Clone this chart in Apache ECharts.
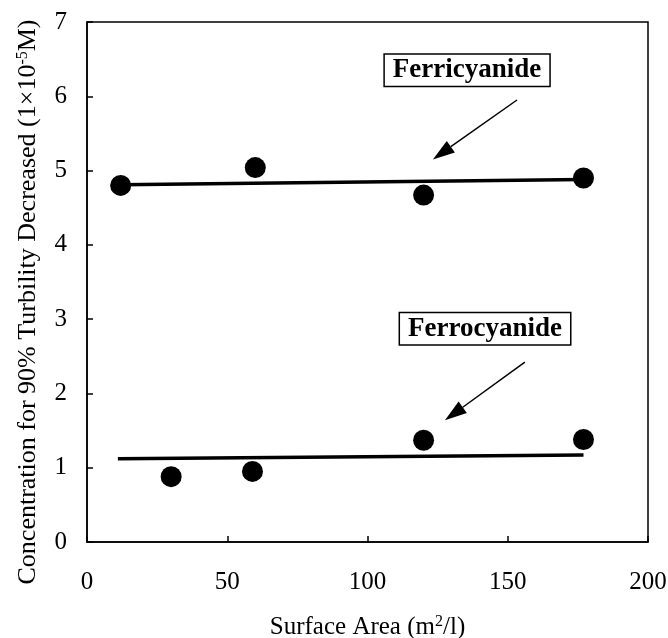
<!DOCTYPE html>
<html>
<head>
<meta charset="utf-8">
<script src="https://cdn.jsdelivr.net/npm/echarts@6/dist/echarts.min.js"></script>
<style>html,body{margin:0;padding:0;background:#fff}#c{width:668px;height:638px}</style>
</head>
<body>
<div id="c"></div>
<script>
// Data
var ferriX = [12, 60, 120, 177];
var ferriY = [4.80, 5.04, 4.67, 4.90];
var ferroX = [30, 59, 120, 177];
var ferroY = [0.88, 0.95, 1.37, 1.38];
var ferriFitX = [12, 177];
var ferriFitY = [4.81, 4.88];
var ferroFitX = [11, 177];
var ferroFitY = [1.12, 1.17];
var xTicks = [0, 50, 100, 150, 200];
var yTicks = [0, 1, 2, 3, 4, 5, 6, 7];
// annotations (data coordinates)
var annoLabels = ['Ferricyanide', 'Ferrocyanide'];
var annoBox = [[135.5, 6.35], [141.9, 2.87]];
var annoArrowFrom = [[153.3, 5.95], [156.1, 2.42]];
var annoArrowTo = [[123.3, 5.15], [127.6, 1.64]];

function zip(a, b) { return a.map(function (v, i) { return [v, b[i]]; }); }

var FONT = 'Liberation Serif';
var chart = echarts.init(document.getElementById('c'));
var supStyle = { fontFamily: FONT, fontSize: 16, verticalAlign: 'top', padding: [0, 0, 10, 0], color: '#000' };
var option = {
  animation: false,
  backgroundColor: '#fff',
  grid: { left: 87, right: 20, top: 22, bottom: 96, outerBoundsMode: 'none', containLabel: false, show: true, borderColor: '#000', borderWidth: 1.5, backgroundColor: 'transparent' },
  xAxis: {
    type: 'value', min: 0, max: 200, interval: 50,
    name: 'Surface Area (m{sup|2}/l)', nameLocation: 'middle', nameGap: 72,
    nameTextStyle: { fontFamily: FONT, fontSize: 25, color: '#000', rich: { sup: supStyle } },
    axisLine: { show: true, lineStyle: { color: '#000', width: 1.5 } },
    axisTick: { show: true, inside: true, length: 6, lineStyle: { color: '#000', width: 1.5 } },
    axisLabel: { fontFamily: FONT, fontSize: 25, color: '#000', margin: 28,
      formatter: function (v) { return xTicks.indexOf(v) >= 0 ? String(v) : ''; } },
    splitLine: { show: false }
  },
  yAxis: {
    type: 'value', min: 0, max: 7, interval: 1,
    name: 'Concentration for 90% Turbility Decreased (1×10{sup|-5}M)', nameLocation: 'middle', nameGap: 46, nameRotate: 90,
    nameTextStyle: { fontFamily: FONT, fontSize: 26, color: '#000', padding: [0, 40, 0, 0], rich: { sup: supStyle } },
    axisLine: { show: true, lineStyle: { color: '#000', width: 1.5 } },
    axisTick: { show: true, inside: true, length: 6, lineStyle: { color: '#000', width: 1.5 } },
    axisLabel: { fontFamily: FONT, fontSize: 25, color: '#000', margin: 20,
      formatter: function (v) { return yTicks.indexOf(v) >= 0 ? String(v) : ''; } },
    splitLine: { show: false }
  },
  series: [
    { type: 'line', data: zip(ferriFitX, ferriFitY), symbol: 'none', lineStyle: { color: '#000', width: 3.5 }, z: 2 },
    { type: 'line', data: zip(ferroFitX, ferroFitY), symbol: 'none', lineStyle: { color: '#000', width: 3.5 }, z: 2 },
    { type: 'scatter', name: 'Ferricyanide', data: zip(ferriX, ferriY), symbol: 'circle', symbolSize: 21, itemStyle: { color: '#000', opacity: 1 }, z: 3 },
    { type: 'scatter', name: 'Ferrocyanide', data: zip(ferroX, ferroY), symbol: 'circle', symbolSize: 21, itemStyle: { color: '#000', opacity: 1 }, z: 3 }
  ]
};
chart.setOption(option);

var graphics = [];
for (var i = 0; i < annoLabels.length; i++) {
  var c = chart.convertToPixel({ gridIndex: 0 }, annoBox[i]);
  graphics.push({
    type: 'text', x: c[0], y: c[1], z: 10,
    style: { text: annoLabels[i], font: 'bold 27px "Liberation Serif"', fill: '#000',
      align: 'center', verticalAlign: 'middle', backgroundColor: '#fff',
      borderColor: '#000', borderWidth: 1.5, padding: [3, 8, 1, 8] }
  });
  var p0 = chart.convertToPixel({ gridIndex: 0 }, annoArrowFrom[i]);
  var p1 = chart.convertToPixel({ gridIndex: 0 }, annoArrowTo[i]);
  var dx = p1[0] - p0[0], dy = p1[1] - p0[1];
  var L = Math.sqrt(dx * dx + dy * dy), ux = dx / L, uy = dy / L;
  var headLen = 22, headW = 7;
  var bx = p1[0] - ux * headLen, by = p1[1] - uy * headLen;
  graphics.push({ type: 'line', z: 10, shape: { x1: p0[0], y1: p0[1], x2: bx, y2: by }, style: { stroke: '#000', lineWidth: 1.5 } });
  graphics.push({ type: 'polygon', z: 10, shape: { points: [[p1[0], p1[1]], [bx - uy * headW, by + ux * headW], [bx + uy * headW, by - ux * headW]] }, style: { fill: '#000' } });
}
chart.setOption({ graphic: graphics });
</script>
</body>
</html>
